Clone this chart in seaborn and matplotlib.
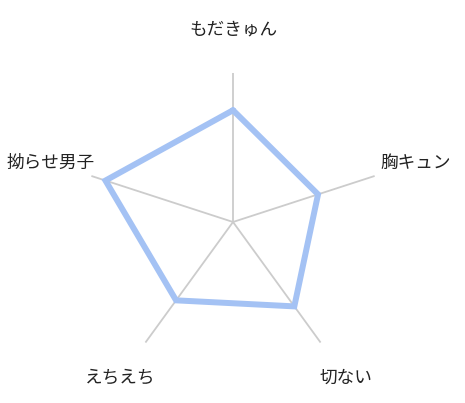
import numpy as np
import matplotlib
matplotlib.use("Agg")
import matplotlib.pyplot as plt
import seaborn as sns

# データ
labels = ["もだきゅん", "胸キュン", "切ない", "えちえち", "拗らせ男子"]
values = [0.75, 0.6, 0.7, 0.65, 0.9]

sns.set_style("white")
plt.rcParams['font.family'] = ['Noto Sans CJK JP', 'DejaVu Sans']

n = len(labels)
theta = np.linspace(0, 2 * np.pi, n, endpoint=False)

fig = plt.figure(figsize=(4.65, 4.03), dpi=100)
ax = fig.add_axes([0.1806, 0.0794, 0.641, 0.7395], projection='polar')
ax.set_theta_offset(np.pi / 2)
ax.set_theta_direction(-1)
ax.set_ylim(0, 1)

# 軸線
for t in theta:
    ax.plot([t, t], [0, 1], color='#cccccc', lw=1.3, zorder=1)

# 値のポリゴン (閉じる)
th_closed = np.append(theta, 2 * np.pi)
v_closed = np.append(values, values[0])
sns.lineplot(x=th_closed, y=v_closed, ax=ax, sort=False, estimator=None,
             color='#a4c2f4', lw=4.3, zorder=3)
ax.lines[-1].set_solid_joinstyle('miter')

# ラベル
for t, lab in zip(theta, labels):
    ax.text(t, 1.29, lab, ha='center', va='center', fontsize=12.7,
            color='#222222', clip_on=False)

ax.grid(False)
ax.set_xticks([])
ax.set_yticks([])
ax.spines['polar'].set_visible(False)
ax.set_xlabel('')
ax.set_ylabel('')

fig.savefig('out.png', dpi=100)
